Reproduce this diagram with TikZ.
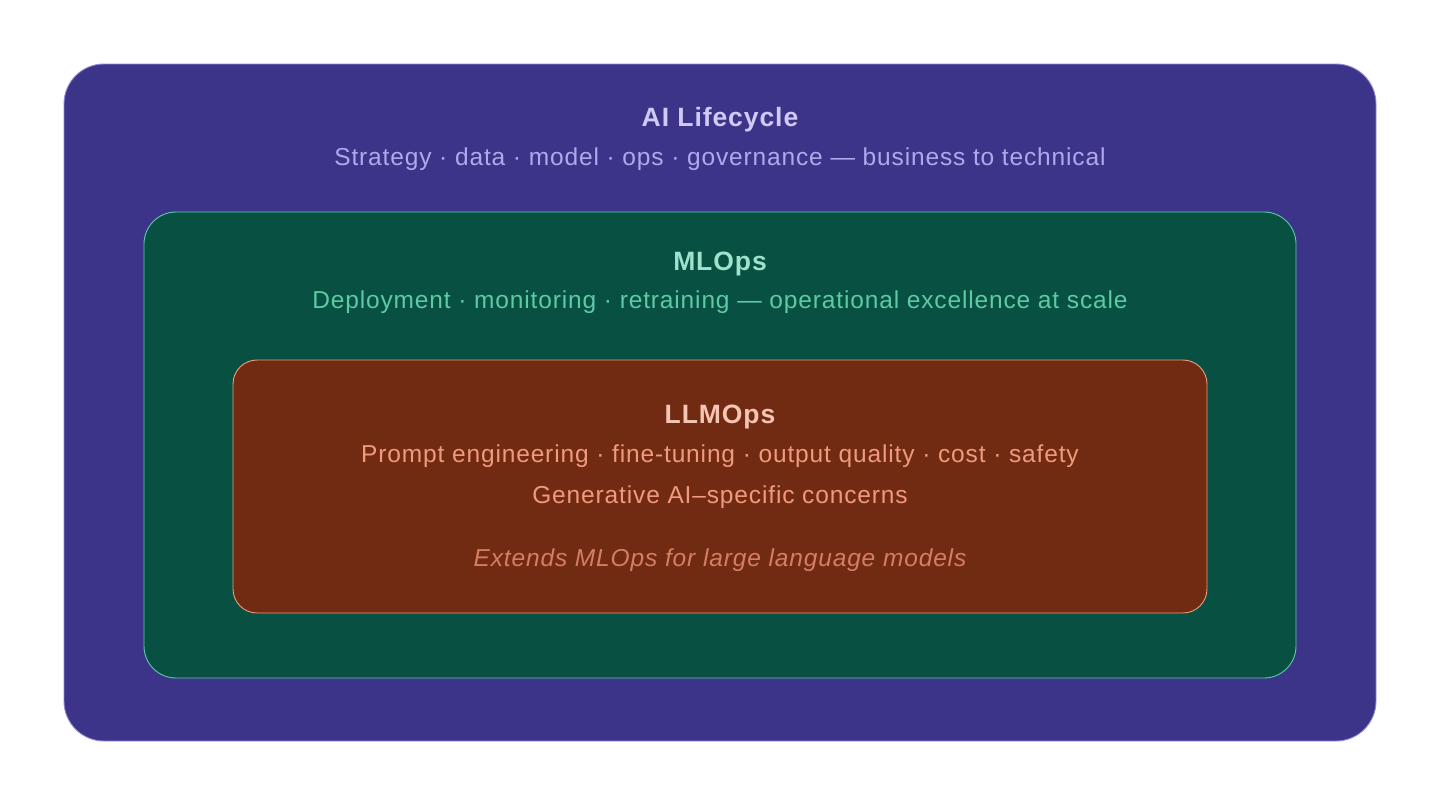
\documentclass[tikz,border=0pt]{standalone}
\usepackage{fontspec}
\setmainfont{Liberation Sans}[LetterSpace=3.5]
\definecolor{outerfill}{HTML}{3C3489}
\definecolor{outerline}{HTML}{8F88D8}
\definecolor{outertitle}{HTML}{CECBF6}
\definecolor{outersub}{HTML}{AFA9EC}
\definecolor{midfill}{HTML}{085041}
\definecolor{midline}{HTML}{5DCAA5}
\definecolor{midtitle}{HTML}{9FE1CB}
\definecolor{midsub}{HTML}{5DCAA5}
\definecolor{innfill}{HTML}{712B13}
\definecolor{innline}{HTML}{F0997B}
\definecolor{inntitle}{HTML}{F5C4B3}
\definecolor{innsub}{HTML}{F0997B}
\definecolor{innnote}{HTML}{D47E62}
\begin{document}
\begin{tikzpicture}[x=1pt,y=-1pt,
  layer/.style={line width=0.9pt},
  ttl/.style={font=\fontsize{26.5}{30}\selectfont\bfseries, anchor=base, inner sep=0pt},
  sub/.style={font=\fontsize{24.5}{28}\selectfont, anchor=base, inner sep=0pt}]
\useasboundingbox (0,0) rectangle (1440,804);
\fill[white] (0,0) rectangle (1440,804);
\draw[layer, fill=outerfill, draw=outerline, rounded corners=40pt] (64,64) rectangle (1376,741);
\draw[layer, fill=midfill, draw=midline, rounded corners=32pt] (144,212) rectangle (1296,678);
\draw[layer, fill=innfill, draw=innline, rounded corners=24pt] (233,360) rectangle (1207,613);
\node[ttl, text=outertitle] (t1) at (720,126) {AI Lifecycle};
\node[sub, text=outersub] (s1) at (720,165) {Strategy · data · model · ops · governance — business to technical};
\node[ttl, text=midtitle] (t2) at (720,270) {MLOps};
\node[sub, text=midsub] (s2) at (720,308) {Deployment · monitoring · retraining — operational excellence at scale};
\node[ttl, text=inntitle] (t3) at (720,423) {LLMOps};
\node[sub, text=innsub] (s3) at (720,462) {Prompt engineering · fine-tuning · output quality · cost · safety};
\node[sub, text=innsub] (s4) at (720,503) {Generative AI–specific concerns};
\node[sub, text=innnote, font=\fontsize{24.5}{28}\selectfont\itshape] (s5) at (720,566) {Extends MLOps for large language models};
\end{tikzpicture}
\end{document}
